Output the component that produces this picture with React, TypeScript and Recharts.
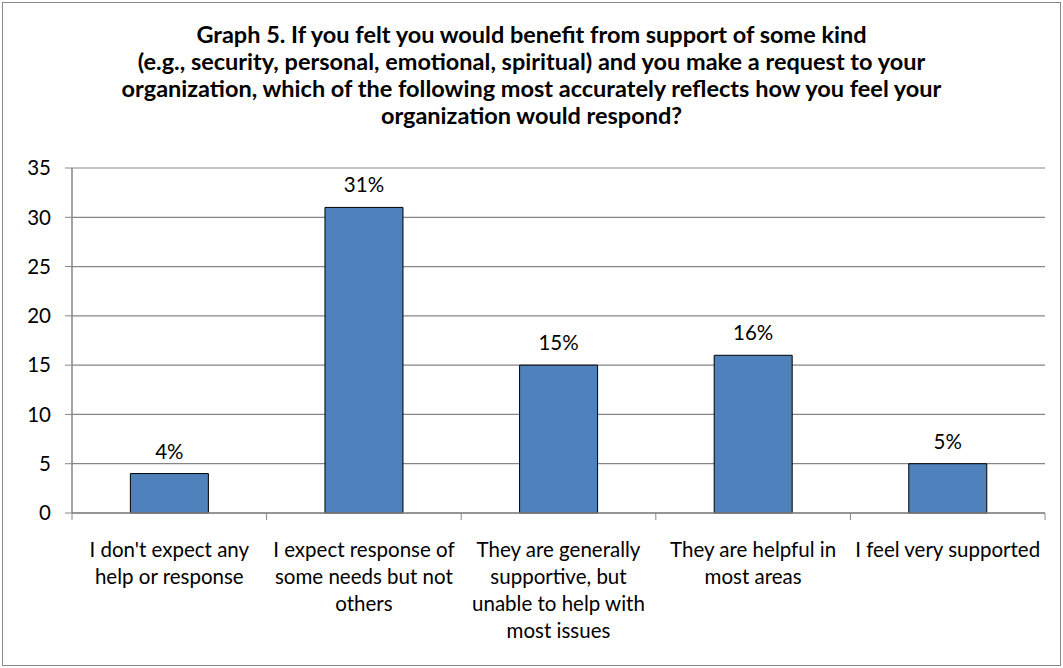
import React from 'react';
import { BarChart, Bar, XAxis, YAxis, CartesianGrid, LabelList } from 'recharts';

const categories = [
  "I don't expect any help or response",
  'I expect response of some needs but not others',
  'They are generally supportive, but unable to help with most issues',
  'They are helpful in most areas',
  'I feel very supported',
];

// how the category names wrap under the axis
const tickLabels = [
  ["I don't expect any", 'help or response'],
  ['I expect response of', 'some needs but not', 'others'],
  ['They are generally', 'supportive, but', 'unable to help with', 'most issues'],
  ['They are helpful in', 'most areas'],
  ['I feel very supported'],
];

const percents = [4, 31, 15, 16, 5];
const yTicks = [0, 5, 10, 15, 20, 25, 30, 35];

const titleLines = [
  'Graph 5. If you felt you would benefit from support of some kind',
  '(e.g., security, personal, emotional, spiritual) and you make a request to your',
  'organization, which of the following most accurately reflects how you feel your',
  'organization would respond?',
];

const W = 1063;
const H = 668;
const MARGIN = { top: 168, right: 18, left: 0, bottom: 0 };
const Y_AXIS_W = 72;
const BAND_HALF = (W - Y_AXIS_W - MARGIN.right) / categories.length / 2;
const FONT = 'Lato, "Open Sans", sans-serif';
const GRID = '#868686';
const TXT = 20.5;

const chartData = categories.map((name, i) => ({ name, value: percents[i] }));

function XTick(props: any) {
  const { x, y, index } = props;
  const lines = tickLabels[index] || [];
  const last = index === categories.length - 1;
  return (
    <g>
      <line x1={x - BAND_HALF} x2={x - BAND_HALF} y1={y} y2={y + 7} stroke={GRID} />
      {last && <line x1={x + BAND_HALF} x2={x + BAND_HALF} y1={y} y2={y + 7} stroke={GRID} />}
      <text x={x} y={y + 44} textAnchor="middle" fill="#000" fontSize={TXT} fontFamily={FONT}>
        {lines.map((l, i) => (
          <tspan key={i} x={x} dy={i === 0 ? 0 : 27}>
            {l}
          </tspan>
        ))}
      </text>
    </g>
  );
}

export default function App() {
  return (
    <div style={{ position: 'relative', width: W, height: H, background: '#fff', fontFamily: FONT }}>
      <style>{'body{margin:0}'}</style>
      <div
        style={{
          position: 'absolute',
          left: 2,
          top: 2,
          width: W - 6,
          height: H - 6,
          border: '1px solid #888',
        }}
      />
      <div
        style={{
          position: 'absolute',
          top: 21,
          left: 0,
          width: W,
          textAlign: 'center',
          fontWeight: 700,
          fontSize: 23.5,
          lineHeight: '27px',
          color: '#000',
        }}
      >
        {titleLines.map((l, i) => (
          <div key={i}>{l}</div>
        ))}
      </div>
      <div style={{ position: 'absolute', left: 0, top: 0 }}>
        <BarChart width={W} height={H} data={chartData} margin={MARGIN} barCategoryGap="30%">
          <CartesianGrid vertical={false} stroke={GRID} strokeWidth={1.2} />
          <XAxis
            dataKey="name"
            height={H - 513}
            tickSize={0}
            tickMargin={0}
            interval={0}
            axisLine={{ stroke: GRID, strokeWidth: 1.5 }}
            tickLine={false}
            tick={<XTick />}
          />
          <YAxis
            width={Y_AXIS_W}
            domain={[0, 35]}
            ticks={yTicks}
            interval={0}
            tickSize={7}
            tickMargin={14}
            axisLine={{ stroke: GRID, strokeWidth: 1.5 }}
            tickLine={{ stroke: GRID }}
            tick={{ fill: '#000', fontSize: TXT, fontFamily: FONT }}
          />
          <Bar dataKey="value" fill="#4F81BD" stroke="#000" strokeWidth={1} isAnimationActive={false}>
            <LabelList
              dataKey="value"
              position="top"
              offset={15}
              formatter={(v: any) => `${v}%`}
              style={{ fill: '#000', fontSize: TXT, fontFamily: FONT }}
            />
          </Bar>
        </BarChart>
      </div>
    </div>
  );
}
